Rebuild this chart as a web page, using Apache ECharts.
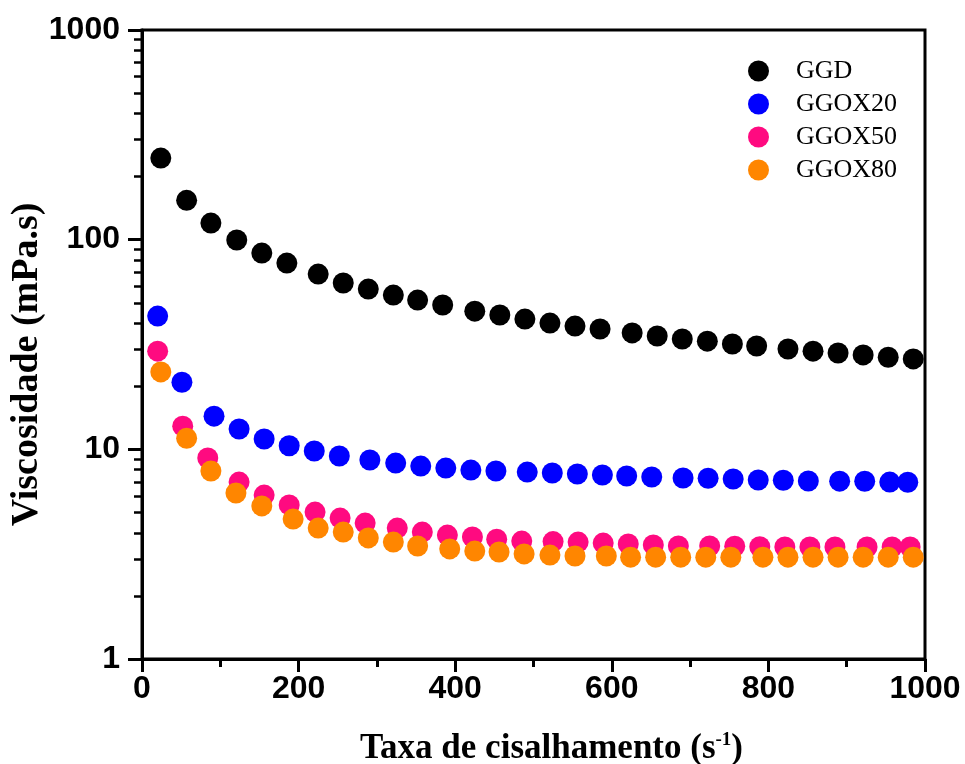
<!DOCTYPE html>
<html lang="pt" style="height: 100%">
<head>
  <meta charset="utf-8">
</head>
<body style="height: 100%; margin: 0; background: #fff">
  <div id="container" style="width: 965px; height: 764px"></div>

  <script type="text/javascript" src="https://fastly.jsdelivr.net/npm/echarts@6/dist/echarts.min.js"></script>
  <script type="text/javascript">
    // taxa de cisalhamento (s-1) e viscosidade (mPa.s)
    var seriesNames = ['GGD', 'GGOX20', 'GGOX50', 'GGOX80'];
    var seriesColors = ['#000000', '#0000ff', '#ff0a80', '#ff8600'];

    var ggdX = [24, 57, 88, 121, 153, 185, 225, 257, 289, 321, 352, 384, 425, 457, 489,
      521, 553, 585, 626, 658, 690, 722, 754, 785, 825, 857, 889, 921, 953, 985];
    var ggdY = [245, 154, 120, 99.6, 86.3, 77.3, 68.5, 62.1, 58.1, 54.4, 51.5, 48.8, 45.6, 43.7, 41.8,
      40.0, 38.7, 37.5, 35.9, 34.7, 33.6, 32.8, 31.8, 31.1, 30.1, 29.4, 28.8, 28.2, 27.5, 27.0];

    var ox20X = [20, 51, 92, 124, 156, 188, 220, 252, 291, 324, 356, 388, 420, 452, 492,
      524, 556, 588, 619, 651, 691, 723, 755, 787, 819, 851, 891, 923, 955, 978];
    var ox20Y = [43.2, 20.9, 14.4, 12.5, 11.2, 10.4, 9.82, 9.29, 8.89, 8.60, 8.32, 8.14, 7.96, 7.88, 7.79,
      7.71, 7.63, 7.54, 7.46, 7.38, 7.30, 7.28, 7.22, 7.14, 7.12, 7.06, 7.05, 7.04, 6.98, 6.97];

    var ox50X = [20, 52, 84, 124, 156, 188, 221, 253, 285, 326, 358, 390, 422, 453, 485,
      525, 557, 589, 621, 653, 685, 725, 757, 789, 821, 853, 885, 926, 958, 981];
    var ox50Y = [29.4, 12.9, 9.09, 6.98, 6.05, 5.43, 5.02, 4.70, 4.45, 4.21, 4.03, 3.90, 3.82, 3.73, 3.65,
      3.63, 3.61, 3.57, 3.54, 3.50, 3.46, 3.46, 3.45, 3.43, 3.42, 3.42, 3.42, 3.42, 3.42, 3.42];

    var ox80X = [24, 57, 88, 120, 153, 193, 225, 257, 289, 321, 352, 393, 425, 456, 488,
      521, 553, 593, 624, 656, 688, 720, 752, 793, 825, 857, 889, 921, 953, 985];
    var ox80Y = [23.4, 11.3, 7.88, 6.19, 5.37, 4.65, 4.21, 4.03, 3.78, 3.61, 3.46, 3.35, 3.27, 3.24, 3.17,
      3.13, 3.10, 3.10, 3.06, 3.06, 3.06, 3.06, 3.06, 3.06, 3.06, 3.06, 3.06, 3.06, 3.06, 3.06];

    var xTicks = [0, 200, 400, 600, 800, 1000];
    var yTicks = [1, 10, 100, 1000];

    var xData = [ggdX, ox20X, ox50X, ox80X];
    var yData = [ggdY, ox20Y, ox50Y, ox80Y];

    // posições (log10) dos traços menores 2..9 de cada década
    var minorLog = [];
    for (var d = 0; d < 3; d++) {
      for (var m = 2; m <= 9; m++) minorLog.push(d + Math.log10(m));
    }

    var dom = document.getElementById('container');
    var myChart = echarts.init(dom, null, { renderer: 'canvas' });

    var tickFont = {
      fontFamily: 'Liberation Sans, Arial, sans-serif',
      fontWeight: 'bold',
      fontSize: 32,
      color: '#000'
    };
    var serif = 'Liberation Serif, Times New Roman, serif';

    var option = {
      backgroundColor: '#fff',
      animation: false,
      grid: {
        left: 142, right: 40, top: 30, bottom: 105,
        outerBoundsMode: 'none',
        containLabel: false,
        show: true, borderColor: '#000', borderWidth: 3
      },
      legend: {
        orient: 'vertical',
        left: 743, top: 53,
        icon: 'circle',
        itemWidth: 21, itemHeight: 21,
        itemGap: 7,
        textStyle: {
          fontFamily: serif,
          fontSize: 26,
          color: '#000',
          padding: [0, 0, 0, 22]
        },
        data: seriesNames
      },
      xAxis: {
        type: 'value',
        min: 0, max: 1000, interval: 200,
        name: '{g|}{t|Taxa de cisalhamento (s}{s|-1}{t|)}',
        nameLocation: 'middle',
        nameGap: 72,
        nameMoveOverlap: false,
        nameTextStyle: {
          rich: {
            g: { width: 36 },
            t: { fontFamily: serif, fontWeight: 'bold', fontSize: 35, color: '#000' },
            s: { fontFamily: serif, fontWeight: 'bold', fontSize: 19, color: '#000', verticalAlign: 'top', padding: [0, 0, 16, 0] }
          }
        },
        axisLine: { onZero: false, lineStyle: { color: '#000', width: 3 } },
        axisTick: { length: 13, lineStyle: { color: '#000', width: 3 } },
        minorTick: { show: true, splitNumber: 2, length: 8, lineStyle: { color: '#000', width: 3 } },
        axisLabel: Object.assign({ margin: 14, formatter: function (v) { return xTicks.indexOf(v) >= 0 ? String(v) : ''; } }, tickFont),
        splitLine: { show: false }
      },
      yAxis: [{
        type: 'log',
        logBase: 10,
        min: 1, max: 1000,
        name: '{t|Viscosidade (mPa.s)}{g|}',
        nameLocation: 'middle',
        nameGap: 96,
        nameMoveOverlap: false,
        nameTextStyle: {
          rich: {
            t: { fontFamily: serif, fontWeight: 'bold', fontSize: 38, color: '#000' },
            g: { width: 40 }
          }
        },
        axisLine: { lineStyle: { color: '#000', width: 3 } },
        axisTick: { length: 14, lineStyle: { color: '#000', width: 3 } },
        axisLabel: Object.assign({ margin: 22, formatter: function (v) { return yTicks.indexOf(Math.round(v)) >= 0 ? String(Math.round(v)) : ''; } }, tickFont),
        splitLine: { show: false }
      }, {
        // eixo auxiliar só para os traços menores da escala log
        type: 'value',
        min: 0, max: 3,
        position: 'left',
        axisLine: { show: false },
        axisLabel: { show: false },
        splitLine: { show: false },
        axisTick: { show: true, length: 8, customValues: minorLog, lineStyle: { color: '#000', width: 2.5 } }
      }],
      series: seriesNames.map(function (name, i) {
        return {
          name: name,
          type: 'scatter',
          yAxisIndex: 0,
          symbol: 'circle',
          symbolSize: 21,
          itemStyle: { color: seriesColors[i], opacity: 1 },
          emphasis: { disabled: true },
          data: xData[i].map(function (x, j) { return [x, yData[i][j]]; })
        };
      })
    };

    myChart.setOption(option);
    window.addEventListener('resize', myChart.resize);
  </script>
</body>
</html>
